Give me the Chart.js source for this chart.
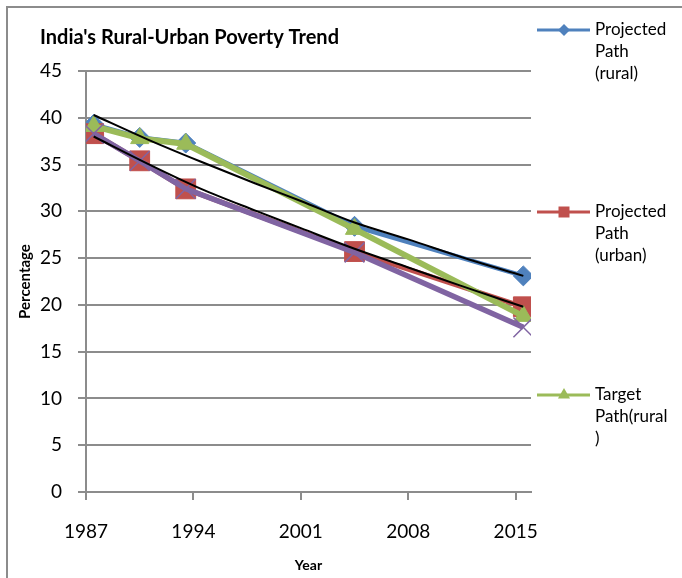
<!DOCTYPE html>
<html>
<head>
<meta charset="utf-8">
<script src="https://cdn.jsdelivr.net/npm/chart.js@4"></script>
<style>
  html, body { margin: 0; padding: 0; background: #fff; overflow: hidden; }
  #wrap { position: relative; width: 682px; height: 578px; }
  #frame { position: absolute; left: 6px; top: 6px; width: 720px; height: 620px;
           border: 2px solid #8c8c8c; box-sizing: border-box; pointer-events: none; }
  canvas { position: absolute; left: 0; top: 0; }
</style>
</head>
<body>
<div id="wrap">
  <canvas id="c" width="682" height="578"></canvas>
  <div id="frame"></div>
</div>
<script>
// ---- data ----
const years = [1987.5, 1990.5, 1993.5, 2004.5, 2015.5];
const ruralProjected = [39.3, 37.9, 37.3, 28.4, 23.1];
const urbanProjected = [38.3, 35.4, 32.4, 25.7, 19.8];
const ruralTarget    = [39.1, 37.8, 37.2, 28.1, 18.8];
const urbanTarget    = [38.3, 35.4, 32.4, 25.6, 17.6];

const trendYears = [1987.5, 1991, 1994.5, 1998, 2001, 2004.5, 2008, 2011.5, 2015.5];
const ruralTrend = [40.3, 37.7, 35.3, 33.0, 31.1, 28.8, 27.0, 25.1, 23.1];
const urbanTrend = [38.0, 35.1, 32.4, 30.1, 28.2, 26.0, 24.0, 22.0, 19.8];

const xTicks = [1987, 1994, 2001, 2008, 2015];
const yTicks = [0, 5, 10, 15, 20, 25, 30, 35, 40, 45];

const seriesNames = ['Projected Path (rural)', 'Projected Path (urban)', 'Target Path(rural)', 'Target Path (urban)'];
const legendLines = [['Projected', 'Path', '(rural)'], ['Projected', 'Path', '(urban)'], ['Target', 'Path(rural', ')']];
const chartTitle = "India's Rural-Urban Poverty Trend";
const xTitle = 'Year';
const yTitle = 'Percentage';

// ---- styling ----
const BLUE = '#4F81BD', RED = '#C0504D', GREEN = '#9BBB59', PURPLE = '#8064A2';
const GRID = '#8c8c8c';
const FONT = 'Lato, "Open Sans", "Liberation Sans", sans-serif';

const pts = (xs, ys) => xs.map((x, i) => ({ x: x, y: ys[i] }));

function drawMarker(ctx, style, r, color, x, y, bw) {
  ctx.save();
  ctx.fillStyle = color; ctx.strokeStyle = color; ctx.lineWidth = bw || 1;
  ctx.beginPath();
  if (style === 'rectRot') {
    ctx.moveTo(x, y - r); ctx.lineTo(x + r, y); ctx.lineTo(x, y + r); ctx.lineTo(x - r, y); ctx.closePath();
    ctx.fill();
  } else if (style === 'rect') {
    ctx.rect(x - r, y - r, 2 * r, 2 * r); ctx.fill();
  } else if (style === 'triangle') {
    ctx.moveTo(x, y - r); ctx.lineTo(x + r * 0.866, y + r / 2); ctx.lineTo(x - r * 0.866, y + r / 2); ctx.closePath();
    ctx.fill();
  }
  ctx.restore();
}

const legendPlugin = {
  id: 'sideLegend',
  afterDraw(chart) {
    const ctx = chart.ctx;
    const rows = [30, 212, 395];
    const styles = [['rectRot', 6], ['rect', 5.5], ['triangle', 7]];
    rows.forEach((y, i) => {
      const ds = chart.data.datasets[i];
      ctx.save();
      ctx.strokeStyle = ds.borderColor; ctx.lineWidth = 3;
      ctx.beginPath(); ctx.moveTo(537, y); ctx.lineTo(590, y); ctx.stroke();
      drawMarker(ctx, styles[i][0], styles[i][1], ds.borderColor, 564, y);
      ctx.fillStyle = '#000';
      ctx.font = '17px ' + FONT;
      ctx.textBaseline = 'middle'; ctx.textAlign = 'left';
      legendLines[i].forEach((t, k) => ctx.fillText(t, 595, y + k * 22));
      ctx.restore();
    });
  }
};

new Chart(document.getElementById('c'), {
  type: 'line',
  data: {
    datasets: [
      { label: seriesNames[0], data: pts(years, ruralProjected), borderColor: BLUE, backgroundColor: BLUE,
        borderWidth: 4.5, pointStyle: 'rectRot', pointRadius: 10, pointBorderWidth: 1, order: 6 },
      { label: seriesNames[1], data: pts(years, urbanProjected), borderColor: RED, backgroundColor: RED,
        borderWidth: 5, pointStyle: 'rect', pointRadius: 14, pointBorderWidth: 1, order: 5 },
      { label: seriesNames[2], data: pts(years, ruralTarget), borderColor: GREEN, backgroundColor: GREEN,
        borderWidth: 6, pointStyle: 'triangle', pointRadius: 10.5, pointBorderWidth: 1, order: 4 },
      { label: seriesNames[3], data: pts(years, urbanTarget), borderColor: PURPLE, backgroundColor: PURPLE,
        borderWidth: 5.5, pointStyle: 'crossRot', pointRadius: 14, pointBorderWidth: 1.5, order: 3 },
      { label: 'Trend (rural)', data: pts(trendYears, ruralTrend), borderColor: '#000', borderWidth: 2,
        pointRadius: 0, cubicInterpolationMode: 'monotone', order: 2 },
      { label: 'Trend (urban)', data: pts(trendYears, urbanTrend), borderColor: '#000', borderWidth: 2,
        pointRadius: 0, cubicInterpolationMode: 'monotone', order: 1 }
    ]
  },
  options: {
    responsive: false,
    animation: false,
    devicePixelRatio: 1,
    events: [],
    layout: { padding: { left: 40, right: 151, top: 0, bottom: 0 } },
    plugins: {
      legend: { display: false },
      tooltip: { enabled: false },
      title: {
        display: true, text: chartTitle, align: 'start', color: '#000',
        font: { family: FONT, size: 20, weight: 'bold' },
        padding: { top: 26, bottom: 21 }
      }
    },
    scales: {
      x: {
        type: 'linear', min: 1987, max: 2016,
        afterBuildTicks: s => { s.ticks = xTicks.map(v => ({ value: v })); },
        afterFit: s => { s.height = 86; },
        ticks: { color: '#000', font: { family: FONT, size: 19 }, padding: 20, maxRotation: 0,
                 callback: v => String(v) },
        grid: { display: true, drawOnChartArea: false, drawTicks: true, tickLength: 8, color: GRID, lineWidth: 2 },
        border: { display: true, color: GRID, width: 2 },
        title: { display: true, text: xTitle, color: '#000', font: { family: FONT, size: 14, weight: 'bold' },
                 padding: { top: 0, bottom: 4 } }
      },
      y: {
        min: 0, max: 45,
        afterBuildTicks: s => { s.ticks = yTicks.map(v => ({ value: v })); },
        afterFit: s => { s.width = 46; },
        ticks: { color: '#000', font: { family: FONT, size: 19 }, padding: 16, callback: v => String(v) },
        grid: { display: true, drawOnChartArea: true, drawTicks: true, tickLength: 8, color: GRID, lineWidth: 2 },
        border: { display: true, color: GRID, width: 2 },
        title: { display: true, text: yTitle, color: '#000', font: { family: FONT, size: 15, weight: 'bold' },
                 padding: { top: -24, bottom: 0 } }
      }
    }
  },
  plugins: [legendPlugin]
});
</script>
</body>
</html>
